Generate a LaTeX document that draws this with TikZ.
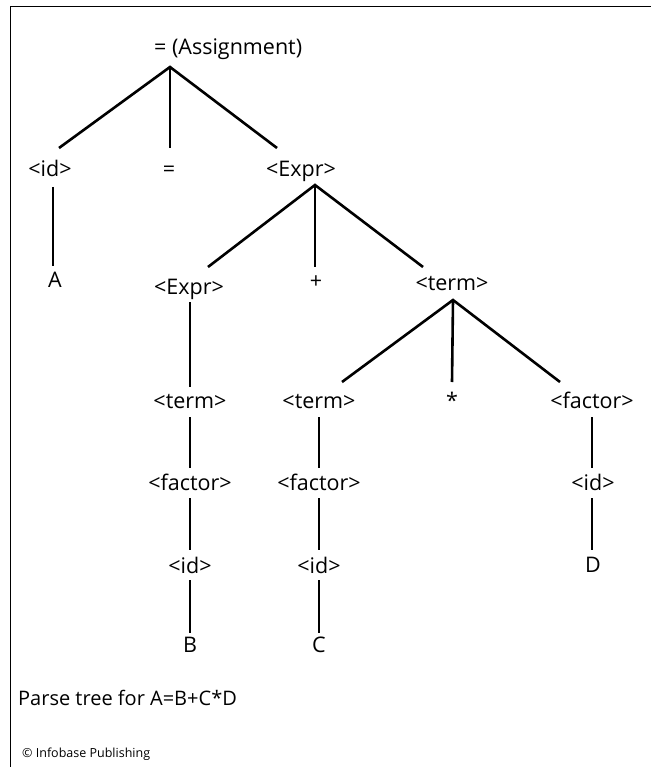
\documentclass[tikz,border=0pt]{standalone}
\usepackage{fontspec}
\setmainfont{Open Sans}
\begin{document}
\begin{tikzpicture}[x=1pt,y=-1pt,
  lbl/.style={anchor=base,inner sep=0pt,font=\fontsize{21.5}{26}\selectfont},
  edge/.style={line width=2.6pt},
  frame/.style={line width=1.5pt}]
\useasboundingbox (0,0) rectangle (651,767);
\draw[frame] (10.5,767) -- (10.5,6.5) -- (651,6.5);
% nodes
\node[lbl,anchor=base west] (root) at (154,55) {= (Assignment)};
\node[lbl] (id1) at (50,177) {<id>};
\node[lbl] (eq) at (169,177) {=};
\node[lbl] (expr1) at (301,177) {<Expr>};
\node[lbl] (A) at (55,287) {A};
\node[lbl] (expr2) at (189,294) {<Expr>};
\node[lbl] (plus) at (316,288) {+};
\node[lbl] (term1) at (452,290) {<term>};
\node[lbl] (term2) at (190,408) {<term>};
\node[lbl] (term3) at (319,408) {<term>};
\node[lbl] (star) at (452,408) {*};
\node[lbl] (factor1) at (592,408) {<factor>};
\node[lbl] (factor2) at (190,490) {<factor>};
\node[lbl] (factor3) at (319,490) {<factor>};
\node[lbl] (id2) at (593,490) {<id>};
\node[lbl] (id3) at (190,573) {<id>};
\node[lbl] (id4) at (319,573) {<id>};
\node[lbl] (D) at (593,572) {D};
\node[lbl] (B) at (190,652) {B};
\node[lbl] (C) at (319,652) {C};
\node[anchor=base west,inner sep=0pt,font=\fontsize{20}{24}\selectfont] (cap) at (18,705) {Parse tree for A=B+C*D};
\node[anchor=base west,inner sep=0pt,font=\fontsize{12.5}{15}\selectfont] (copy) at (22,757) {© Infobase Publishing};
% connectors
\draw[edge] ([xshift=9pt,yshift=29pt]id1.base) -- ([xshift=16pt,yshift=-12pt]root.base west) -- ([xshift=-24pt,yshift=29pt]expr1.base);
\draw[edge] ([xshift=16pt,yshift=-12pt]root.base west) -- ([xshift=1pt,yshift=29pt]eq.base);
\draw[edge] ([xshift=3pt,yshift=-10pt]id1.base) -- ([xshift=-2pt,yshift=21pt]A.base);
\draw[edge] ([xshift=19pt,yshift=27pt]expr2.base) -- ([xshift=14pt,yshift=-8pt]expr1.base) -- ([xshift=-29pt,yshift=23pt]term1.base);
\draw[edge] ([xshift=14pt,yshift=-8pt]expr1.base) -- ([xshift=-1pt,yshift=21pt]plus.base);
\draw[edge] ([xshift=1pt,yshift=-8pt]expr2.base) -- ([yshift=21pt]term2.base);
\draw[edge] ([xshift=23pt,yshift=26pt]term3.base) -- ([xshift=1pt,yshift=-10pt]term1.base) -- ([xshift=-32pt,yshift=26pt]factor1.base);
\draw[edge] ([xshift=1pt,yshift=-10pt]term1.base) -- ([yshift=26pt]star.base);
\draw[edge] ([yshift=-9pt]term2.base) -- ([yshift=22pt]factor2.base);
\draw[edge] ([yshift=-9pt]term3.base) -- ([yshift=22pt]factor3.base);
\draw[edge] ([yshift=-9pt]factor1.base) -- ([xshift=-1pt,yshift=22pt]id2.base);
\draw[edge] ([yshift=-8pt]factor2.base) -- ([yshift=23pt]id3.base);
\draw[edge] ([yshift=-8pt]factor3.base) -- ([yshift=23pt]id4.base);
\draw[edge] ([xshift=-1pt,yshift=-8pt]id2.base) -- ([xshift=-1pt,yshift=22pt]D.base);
\draw[edge] ([yshift=-7pt]id3.base) -- ([yshift=19pt]B.base);
\draw[edge] ([yshift=-7pt]id4.base) -- ([yshift=19pt]C.base);
\end{tikzpicture}
\end{document}
